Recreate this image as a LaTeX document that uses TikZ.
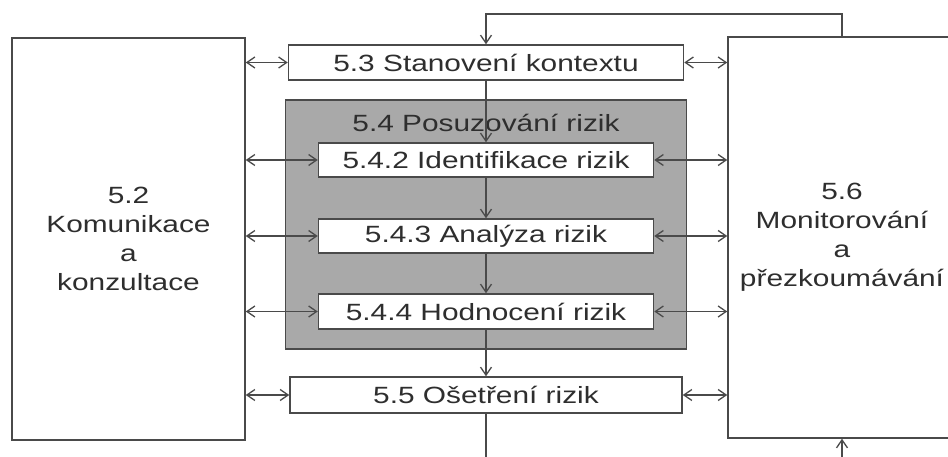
\documentclass[tikz,border=0pt]{standalone}
\usepackage{fontspec}
\newfontfamily\labfont[FakeStretch=1.27]{Liberation Sans}
\usetikzlibrary{arrows.meta}
\definecolor{ln}{HTML}{4A4A4A}
\definecolor{tx}{HTML}{2E2E2E}
\definecolor{gr}{HTML}{A9A9A9}
\tikzset{
  lbl/.style={font=\labfont\fontsize{23.5}{29}\selectfont, text=tx},
  box/.style={draw=ln, line width=1.5pt, fill=white, inner sep=0pt, lbl, align=center},
  conn/.style={draw=ln, line width=1.4pt},
  arr/.style={conn, -{Straight Barb[length=8pt,width=11pt,line width=1.3pt]}},
  darr/.style={conn, {Straight Barb[length=8pt,width=11pt,line width=1.3pt]}-{Straight Barb[length=8pt,width=11pt,line width=1.3pt]}}
}
\begin{document}
\begin{tikzpicture}[x=1pt,y=-1pt]
\useasboundingbox (0,0) rectangle (948,457);
\clip (0,0) rectangle (948,457);
% side boxes
\node[box, minimum width=233, minimum height=402] (l) at (128.5,239) {5.2\\Komunikace\\a\\konzultace};
\node[box, minimum width=228, minimum height=401] (r) at (842,237.5) {5.6\\Monitorování\\a\\přezkoumávání};
% gray assessment box
\node[draw=ln, line width=1.5pt, fill=gr, minimum width=401, minimum height=249, inner sep=0pt] (g) at (486,224.5) {};
\node[lbl, inner sep=0pt] (gt) at (486,123) {5.4 Posuzování rizik};
% central boxes
\node[box, minimum width=395, minimum height=35] (s53) at (486,62.5) {5.3 Stanovení kontextu};
\node[box, minimum width=335, minimum height=34] (s542) at (486,160) {5.4.2 Identifikace rizik};
\node[box, minimum width=335, minimum height=34] (s543) at (486,236) {5.4.3 Analýza rizik};
\node[box, minimum width=335, minimum height=35] (s544) at (486,311.5) {5.4.4 Hodnocení rizik};
\node[box, minimum width=392, minimum height=36] (s55) at (486,395) {5.5 Ošetření rizik};
% vertical flow
\draw[arr] (s53.south) -- (s542.north);
\draw[arr] (s542.south) -- (s543.north);
\draw[arr] (s543.south) -- (s544.north);
\draw[arr] (s544.south) -- (s55.north);
% feedback loop
\coordinate (top) at (486,14);
\coordinate (b1) at (486,457);
\coordinate (b2) at (842,457);
\draw[arr] (r.north) |- (top) -- (s53.north);
\draw[conn] (s55.south) -- (b1);
\draw[arr] (b2) -- (r.south);
% horizontal double arrows
\foreach \n in {s53,s542,s543,s544,s55}{
  \draw[darr] (l.east |- \n.west) -- (\n.west);
  \draw[darr] (\n.east) -- (r.west |- \n.east);
}
\end{tikzpicture}
\end{document}
